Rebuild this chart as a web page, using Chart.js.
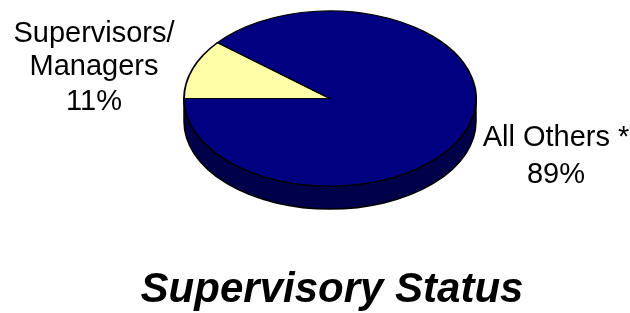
<!DOCTYPE html>
<html><head><meta charset="utf-8">
<script src="https://cdn.jsdelivr.net/npm/chart.js@4/dist/chart.umd.min.js"></script>
<style>html,body{margin:0;padding:0;background:#fff;overflow:hidden}#wrap{position:relative;width:630px;height:313px}</style>
</head><body><div id="wrap"><canvas id="c"></canvas></div>
<script>
// ---- data ----
const categories = ['Supervisors/ Managers', 'All Others *'];
const labelLines = [['Supervisors/', 'Managers'], ['All Others *']];
const percentages = [11, 89];
const sliceColors = ['#FFFFA8', '#000080'];
const sideColors = ['#8A8A50', '#00004A'];
const chartTitle = 'Supervisory Status';

// ---- layout (not data) ----
const PIE = { cx: 330, cy: 98.5, rx: 146, ry: 87.6, depth: 23 };
const LABELS = [
  { x: 94, baselines: [42, 75, 110] },
  { x: 556, baselines: [146, 183] }
];
const TITLE = { x: 332, baseline: 301.5 };
const FONT = "'Liberation Sans', Arial, sans-serif";

function tiltTransform(ctx, el) {
  const sx = PIE.rx / el.outerRadius, sy = PIE.ry / el.outerRadius;
  ctx.translate(PIE.cx, PIE.cy);
  ctx.scale(sx, sy);
  ctx.translate(-el.x, -el.y);
}

const pie3d = {
  id: 'pie3d',
  beforeDatasetsDraw(chart) {
    const ctx = chart.ctx;
    const meta = chart.getDatasetMeta(0);
    // side walls (front half only)
    meta.data.forEach((el, i) => {
      const a0 = el.startAngle, a1 = el.endAngle;
      for (let k = -2; k <= 3; k++) {
        const lo = 2 * Math.PI * k, hi = lo + Math.PI;
        const b0 = Math.max(a0, lo), b1 = Math.min(a1, hi);
        if (b1 <= b0) continue;
        ctx.save();
        ctx.beginPath();
        ctx.ellipse(PIE.cx, PIE.cy, PIE.rx, PIE.ry, 0, b0, b1, false);
        ctx.lineTo(PIE.cx + PIE.rx * Math.cos(b1), PIE.cy + PIE.depth + PIE.ry * Math.sin(b1));
        ctx.ellipse(PIE.cx, PIE.cy + PIE.depth, PIE.rx, PIE.ry, 0, b1, b0, true);
        ctx.closePath();
        ctx.fillStyle = sideColors[i];
        ctx.fill();
        ctx.lineWidth = 1.5;
        ctx.strokeStyle = '#000';
        ctx.lineJoin = 'round';
        ctx.stroke();
        ctx.restore();
      }
    });
    ctx.save();
    tiltTransform(ctx, meta.data[0]);
  },
  afterDatasetsDraw(chart) {
    chart.ctx.restore();
  },
  afterDraw(chart) {
    const ctx = chart.ctx;
    ctx.save();
    ctx.fillStyle = '#000';
    ctx.textAlign = 'center';
    ctx.textBaseline = 'alphabetic';
    ctx.font = '29px ' + FONT;
    LABELS.forEach((p, i) => {
      const lines = labelLines[i].concat([percentages[i] + '%']);
      lines.forEach((t, j) => ctx.fillText(t, p.x, p.baselines[j]));
    });
    ctx.font = 'italic bold 42px ' + FONT;
    ctx.fillText(chartTitle, TITLE.x, TITLE.baseline);
    ctx.restore();
  }
};

new Chart(document.getElementById('c'), {
  type: 'pie',
  data: {
    labels: categories,
    datasets: [{
      data: percentages,
      backgroundColor: sliceColors,
      borderColor: '#000',
      borderWidth: 2,
      borderJoinStyle: 'round',
      clip: false
    }]
  },
  options: {
    responsive: true,
    maintainAspectRatio: false,
    animation: false,
    events: [],
    rotation: 270,
    layout: { padding: 0 },
    plugins: { legend: { display: false }, tooltip: { enabled: false }, title: { display: false } }
  },
  plugins: [pie3d]
});
</script></body></html>
